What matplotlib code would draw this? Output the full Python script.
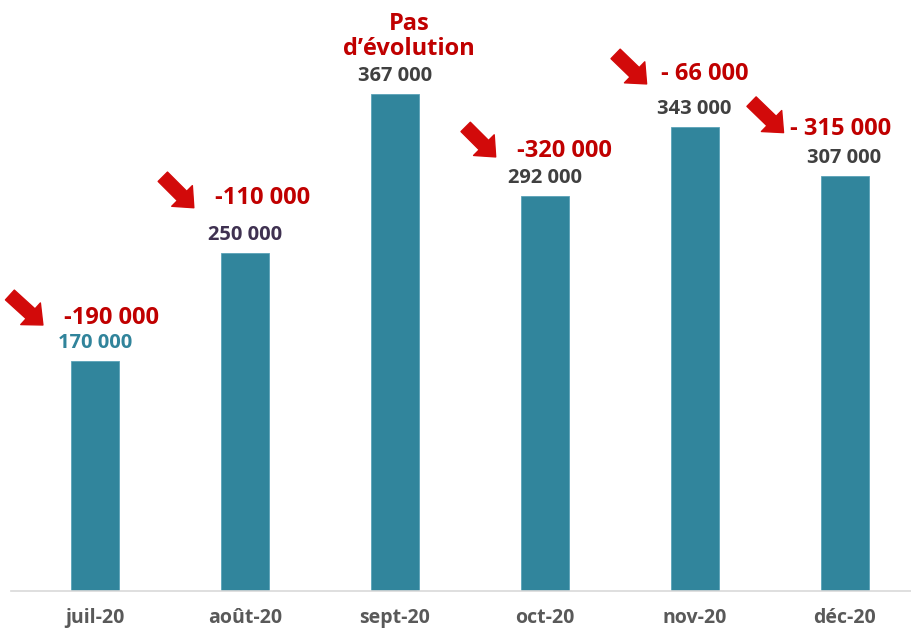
import matplotlib
matplotlib.use("Agg")
import matplotlib.pyplot as plt
from matplotlib.patches import FancyArrowPatch
from matplotlib.transforms import offset_copy

# data
months = ["juil-20", "août-20", "sept-20", "oct-20", "nov-20", "déc-20"]
values = [170000, 250000, 367000, 292000, 343000, 307000]
value_labels = ["170 000", "250 000", "367 000", "292 000", "343 000", "307 000"]
change_labels = ["-190 000", "-110 000", "Pas\nd\u2019évolution", "-320 000", "- 66 000", "- 315 000"]
has_arrow = [True, True, False, True, True, True]

value_colors = ["#31849B", "#3F3151", "#404040", "#404040", "#404040", "#404040"]
bar_color = "#31859C"
red = "#C00000"
arrow_red = "#D20A0A"

# label / arrow offsets in pixels (layout only)
change_off = [(17, 43), (18, 55), (14, 47), (20, 45), (10, 53), (-4, 47)]
arrow_tail = [(-102, 23), (-100, 21), None, (-99, 24), (-89, 20), (-89, 27)]
arrow_head = [(-69, -7), (-69, -10), None, (-69, -6), (-58, -10), (-57, -4)]

plt.rcParams["font.family"] = ["Open Sans", "DejaVu Sans"]

fig = plt.figure(figsize=(9.12, 6.31), dpi=100)
ax = fig.add_axes([0.012, 40 / 631, 0.988, 591 / 631])

x = list(range(len(months)))
ax.bar(x, values, width=0.32, color=bar_color, edgecolor="#5BA3B8", linewidth=0.6, zorder=2)

ax.set_xlim(-0.56, 5.45)
ax.set_ylim(0, 436800)

for i, v in enumerate(values):
    ax.annotate(value_labels[i], (i, v), xytext=(0, 18), textcoords="offset pixels",
                ha="center", va="center", fontsize=14.5, fontweight="bold",
                color=value_colors[i])
    dx, dy = change_off[i]
    if "\n" in change_labels[i]:
        ax.annotate(change_labels[i], (i, v), xytext=(dx, dy - 14), textcoords="offset pixels",
                    ha="center", va="bottom", fontsize=17, fontweight="bold",
                    color=red, linespacing=1.1)
    else:
        ax.annotate(change_labels[i], (i, v), xytext=(dx, dy), textcoords="offset pixels",
                    ha="center", va="center", fontsize=17, fontweight="bold", color=red)
    if has_arrow[i]:
        tx, ty = arrow_tail[i]
        hx, hy = arrow_head[i]
        tr_t = offset_copy(ax.transData, fig=fig, x=dx + tx, y=dy + ty, units="dots")
        tr_h = offset_copy(ax.transData, fig=fig, x=dx + hx, y=dy + hy, units="dots")
        p0 = fig.dpi_scale_trans.inverted().transform(tr_t.transform((i, v)))
        p1 = fig.dpi_scale_trans.inverted().transform(tr_h.transform((i, v)))
        arr = FancyArrowPatch(p0, p1, transform=fig.dpi_scale_trans,
                              arrowstyle="simple,head_length=12,head_width=21,tail_width=9.5",
                              mutation_scale=1, color=arrow_red, shrinkA=0, shrinkB=0,
                              clip_on=False)
        fig.add_artist(arr)

ax.set_xticks(x)
ax.set_xticklabels(months, fontsize=14, fontweight="bold", color="#595959")
ax.tick_params(axis="x", length=0, pad=12)
ax.set_yticks([])
for s in ["top", "right", "left"]:
    ax.spines[s].set_visible(False)
ax.spines["bottom"].set_color("#D9D9D9")
ax.spines["bottom"].set_linewidth(1.2)

fig.savefig("out.png", dpi=100)
